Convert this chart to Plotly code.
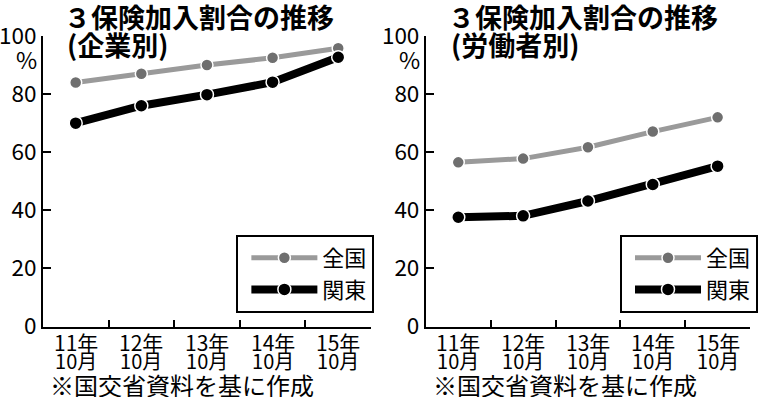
import plotly.graph_objects as go

categories = ["11年10月", "12年10月", "13年10月", "14年10月", "15年10月"]
label_year = ["11年", "12年", "13年", "14年", "15年"]
label_month = ["10月", "10月", "10月", "10月", "10月"]

company_national = [84, 87, 90, 92.5, 95.8]
company_kanto = [70, 76, 79.8, 84.1, 92.7]
worker_national = [56.5, 57.8, 61.7, 67.1, 72.0]
worker_kanto = [37.6, 38.1, 43.2, 48.9, 55.2]

y_ticks = [0, 20, 40, 60, 80, 100]
series_names = ["全国", "関東"]
titles_main = ["３保険加入割合の推移", "３保険加入割合の推移"]
titles_sub = ["(企業別)", "(労働者別)"]
source_note = "※国交省資料を基に作成"

FONT = "Noto Sans CJK JP"
W, H = 758, 397
GRAY_LINE = "#9a9a9a"
GRAY_MARK = "#6f6f6f"


def px_x(p):
    return p / W


def px_y(p):
    return 1 - p / H


fig = go.Figure()

panels = [
    dict(xa="x", ya="y", legend="legend", nat=company_national, kan=company_kanto),
    dict(xa="x2", ya="y2", legend="legend2", nat=worker_national, kan=worker_kanto),
]

for p in panels:
    fig.add_trace(go.Scatter(
        x=categories, y=p["nat"], name=series_names[0], mode="lines+markers",
        xaxis=p["xa"], yaxis=p["ya"], legend=p["legend"],
        line=dict(color=GRAY_LINE, width=5),
        marker=dict(color=GRAY_MARK, size=12, line=dict(color="white", width=1.5)),
    ))
    fig.add_trace(go.Scatter(
        x=categories, y=p["kan"], name=series_names[1], mode="lines+markers",
        xaxis=p["xa"], yaxis=p["ya"], legend=p["legend"],
        line=dict(color="black", width=8),
        marker=dict(color="black", size=13, line=dict(color="white", width=1.5)),
    ))

x_domains = [[px_x(43), px_x(372)], [px_x(427), px_x(752)]]
y_domain = [px_y(326.5), px_y(36)]

xaxis_common = dict(
    type="category", range=[-0.5, 4.5], showline=True, linecolor="black", linewidth=2,
    ticks="inside", ticklen=7, tickwidth=2, tickcolor="black", tickson="boundaries",
    showticklabels=False, showgrid=False, zeroline=False, fixedrange=True,
    automargin=False,
)
yaxis_common = dict(
    range=[0, 100], tickvals=y_ticks, showline=True, linecolor="black", linewidth=2,
    ticks="inside", ticklen=8, tickwidth=2, tickcolor="black",
    tickfont=dict(family=FONT, size=22.5, color="black"),
    showgrid=False, zeroline=False, fixedrange=True, domain=y_domain,
    automargin=False,
)

legend_common = dict(
    xanchor="left", yanchor="top",
    bordercolor="black", borderwidth=2, bgcolor="white",
    font=dict(family=FONT, size=22, color="black"), itemwidth=66, indentation=8,
)

fig.update_layout(
    width=W, height=H, margin=dict(l=0, r=0, t=0, b=0),
    paper_bgcolor="white", plot_bgcolor="white",
    font=dict(family=FONT, color="black"),
    xaxis=dict(domain=x_domains[0], anchor="y", **xaxis_common),
    xaxis2=dict(domain=x_domains[1], anchor="y2", **xaxis_common),
    yaxis=dict(anchor="x", **yaxis_common),
    yaxis2=dict(anchor="x2", **yaxis_common),
    legend=dict(x=px_x(237), y=px_y(235), **legend_common),
    legend2=dict(x=px_x(622), y=px_y(235), **legend_common),
)

annotations = []
for i, (xa, axis_px, title_px) in enumerate([("x", 42.7, 62), ("x2", 426.7, 447)]):
    annotations.append(dict(
        text=f"<b>{titles_main[i]}</b>", xref="paper", yref="paper",
        x=px_x(title_px), y=px_y(16), xanchor="left", yanchor="middle",
        showarrow=False, font=dict(family=FONT, size=27, color="black"),
    ))
    annotations.append(dict(
        text=f"<b>{titles_sub[i]}</b>", xref="paper", yref="paper",
        x=px_x(title_px + 3), y=px_y(44), xanchor="left", yanchor="middle",
        showarrow=False, font=dict(family=FONT, size=27, color="black"),
    ))
    annotations.append(dict(
        text="%", xref="paper", yref="paper",
        x=px_x(axis_px - 16), y=px_y(59), xanchor="center", yanchor="middle",
        showarrow=False, font=dict(family=FONT, size=23, color="black"),
    ))
    for c, yr, mo in zip(categories, label_year, label_month):
        annotations.append(dict(
            text=(f"<span style='font-size:21px'>{yr}</span><br>"
                  f"<span style='font-size:20px'>{mo}</span>"),
            xref=xa, yref="paper", x=c, y=px_y(351),
            xanchor="center", yanchor="middle", showarrow=False,
            font=dict(family=FONT, size=14, color="black"),
        ))
    annotations.append(dict(
        text=source_note, xref="paper", yref="paper",
        x=px_x(axis_px + 5), y=px_y(384), xanchor="left", yanchor="middle",
        showarrow=False, font=dict(family=FONT, size=24, color="black"),
    ))

fig.update_layout(annotations=annotations)

fig.write_html(
    "out.html",
    config={"displayModeBar": False, "staticPlot": True},
    post_script="document.body.style.margin='0';document.body.style.overflow='hidden';",
)
